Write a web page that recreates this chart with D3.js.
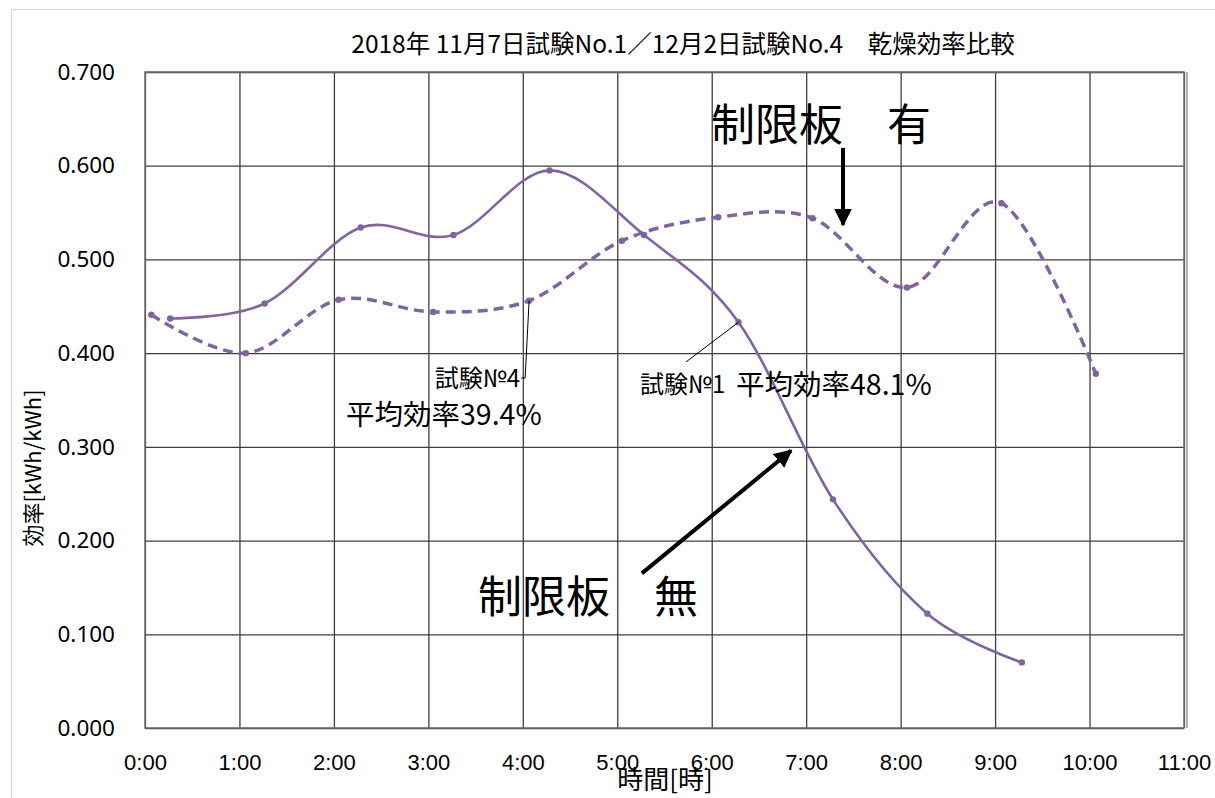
<!DOCTYPE html>
<html><head><meta charset="utf-8">
<script src="https://cdn.jsdelivr.net/npm/d3@7/dist/d3.min.js"></script>
<style>
html,body{margin:0;padding:0;background:#fff;}
svg{display:block;}
</style></head>
<body>
<svg id="chart" width="1215" height="798"></svg>
<script>
// ---- data ----
const titleText = "2018年 11月7日試験No.1／12月2日試験No.4　乾燥効率比較";
const xTickLabels = ["0:00","1:00","2:00","3:00","4:00","5:00","6:00","7:00","8:00","9:00","10:00","11:00"];
const yTickLabels = ["0.000","0.100","0.200","0.300","0.400","0.500","0.600","0.700"];
// 試験No.1 (制限板 無)
const test1Times  = ["0:16","1:16","2:17","3:16","4:17","5:17","6:17","7:17","8:17","9:17"];
const test1Values = [0.437,0.453,0.534,0.526,0.595,0.526,0.433,0.244,0.122,0.070];
// 試験No.4 (制限板 有)
const test4Times  = ["0:04","1:04","2:03","3:03","4:04","5:03","6:04","7:04","8:04","9:04","10:04"];
const test4Values = [0.441,0.400,0.457,0.444,0.456,0.520,0.545,0.544,0.470,0.560,0.378];

const toHours = s => { const [h,m] = s.split(":").map(Number); return h + m/60; };

const svg = d3.select("#chart");
const m = {left:145, right:1184, top:72, bottom:728};
const color = "#8064A2";
const cjk = "'Noto Sans CJK JP', 'Noto Sans', sans-serif";

// outer border
svg.append("rect").attr("x",11.5).attr("y",9.5).attr("width",1300).attr("height",900)
  .attr("fill","none").attr("stroke","#d9d9d9").attr("stroke-width",1.2);

const x = d3.scaleLinear().domain([0,11]).range([m.left,m.right]);
const y = d3.scaleLinear().domain([0,0.7]).range([m.bottom,m.top]);

// grid
const gx = svg.append("g").attr("transform",`translate(0,${m.bottom})`)
  .call(d3.axisBottom(x).tickValues(d3.range(xTickLabels.length)).tickSize(-(m.bottom-m.top)).tickFormat(""));
gx.select(".domain").remove();
gx.selectAll("line").attr("stroke","#3f3f3f").attr("stroke-width",1.3);
const gy = svg.append("g").attr("transform",`translate(${m.left},0)`)
  .call(d3.axisLeft(y).tickValues(d3.range(yTickLabels.length).map(i=>i*0.1)).tickSize(-(m.right-m.left)).tickFormat(""));
gy.select(".domain").remove();
gy.selectAll("line").attr("stroke","#3f3f3f").attr("stroke-width",1.3);

// plot border
svg.append("rect").attr("x",m.left).attr("y",m.top).attr("width",m.right-m.left).attr("height",m.bottom-m.top)
  .attr("fill","none").attr("stroke","#6f6f6f").attr("stroke-width",1.5);
svg.append("line").attr("x1",m.right+3).attr("x2",m.right+3).attr("y1",m.top).attr("y2",m.bottom)
  .attr("stroke","#7f7f7f").attr("stroke-width",1.2);

// tick labels via axes
const ax = svg.append("g").attr("transform",`translate(0,${m.bottom})`)
  .call(d3.axisBottom(x).tickValues(d3.range(xTickLabels.length)).tickSize(0).tickPadding(26).tickFormat((d,i)=>xTickLabels[i]));
ax.select(".domain").remove();
ax.selectAll("text").attr("font-family","'Liberation Sans', Arial, sans-serif").attr("font-size",22).attr("fill","#000");

const ay = svg.append("g").attr("transform",`translate(${m.left},0)`)
  .call(d3.axisLeft(y).tickValues(d3.range(yTickLabels.length).map(i=>i*0.1)).tickSize(0).tickPadding(30).tickFormat((d,i)=>yTickLabels[i]));
ay.select(".domain").remove();
ay.selectAll("text").attr("font-family","'Noto Sans', sans-serif").attr("font-size",22.5).attr("fill","#000");

// titles
svg.append("text").attr("x",683).attr("y",53).attr("text-anchor","middle")
  .attr("font-family",cjk).attr("font-size",24.5).attr("fill","#000").text(titleText);
svg.append("text").attr("x",665).attr("y",789).attr("text-anchor","middle")
  .attr("font-family",cjk).attr("font-size",26).attr("fill","#000").text("時間[時]");
svg.append("text").attr("transform","translate(41,468) rotate(-90)").attr("text-anchor","middle")
  .attr("font-family",cjk).attr("font-size",22).attr("fill","#000").text("効率[kWh/kWh]");

// lines
const d1 = test1Times.map((t,i)=>({x:toHours(t), y:test1Values[i]}));
const d4 = test4Times.map((t,i)=>({x:toHours(t), y:test4Values[i]}));
const line = d3.line().x(d=>x(d.x)).y(d=>y(d.y)).curve(d3.curveCardinal.tension(0));

svg.append("path").datum(d4).attr("d",line).attr("fill","none").attr("stroke",color)
  .attr("stroke-width",3.5).attr("stroke-dasharray","10,6");
svg.append("path").datum(d1).attr("d",line).attr("fill","none").attr("stroke",color)
  .attr("stroke-width",2.6);
svg.append("g").selectAll("circle").data(d4.concat(d1)).join("circle")
  .attr("cx",d=>x(d.x)).attr("cy",d=>y(d.y)).attr("r",3.2).attr("fill",color);

// arrow marker
const defs = svg.append("defs");
defs.append("marker").attr("id","arr").attr("viewBox","0 0 10 10").attr("refX",9).attr("refY",5)
  .attr("markerWidth",4.5).attr("markerHeight",4.5).attr("orient","auto").attr("markerUnits","strokeWidth")
  .append("path").attr("d","M0,0 L10,5 L0,10 z").attr("fill","#000");

// annotation: 制限板 有
svg.append("text").attr("x",711).attr("y",141).attr("font-family",cjk).attr("font-size",44)
  .attr("fill","#000").text("制限板　有");
svg.append("line").attr("x1",x(7.39)).attr("y1",y(0.619)).attr("x2",x(7.39)).attr("y2",y(0.537))
  .attr("stroke","#000").attr("stroke-width",4).attr("marker-end","url(#arr)");

// annotation: 制限板 無
svg.append("text").attr("x",478).attr("y",613).attr("font-family",cjk).attr("font-size",44)
  .attr("fill","#000").text("制限板　無");
svg.append("line").attr("x1",x(5.26)).attr("y1",y(0.165)).attr("x2",x(6.84)).attr("y2",y(0.296))
  .attr("stroke","#000").attr("stroke-width",4).attr("marker-end","url(#arr)");

// data labels with leader lines
const p4 = d4[4];
svg.append("polyline").attr("points",`${x(p4.x)-8},378 ${x(p4.x)-4},378 ${x(p4.x)},${y(p4.y)}`)
  .attr("fill","none").attr("stroke","#000").attr("stroke-width",1);
svg.append("text").attr("x",x(p4.x)-9).attr("y",387).attr("text-anchor","end")
  .attr("font-family",cjk).attr("font-size",24).attr("fill","#000").text("試験№4");
svg.append("text").attr("x",346).attr("y",425)
  .attr("font-family",cjk).attr("font-size",28.5).attr("fill","#000").text("平均効率39.4%");

const p1 = d1[6];
svg.append("line").attr("x1",686).attr("y1",362).attr("x2",x(p1.x)).attr("y2",y(p1.y))
  .attr("stroke","#000").attr("stroke-width",1);
svg.append("text").attr("x",640).attr("y",393)
  .attr("font-family",cjk).attr("font-size",24).attr("fill","#000").text("試験№1");
svg.append("text").attr("x",736).attr("y",395)
  .attr("font-family",cjk).attr("font-size",28.5).attr("fill","#000").text("平均効率48.1%");
</script>
</body></html>
